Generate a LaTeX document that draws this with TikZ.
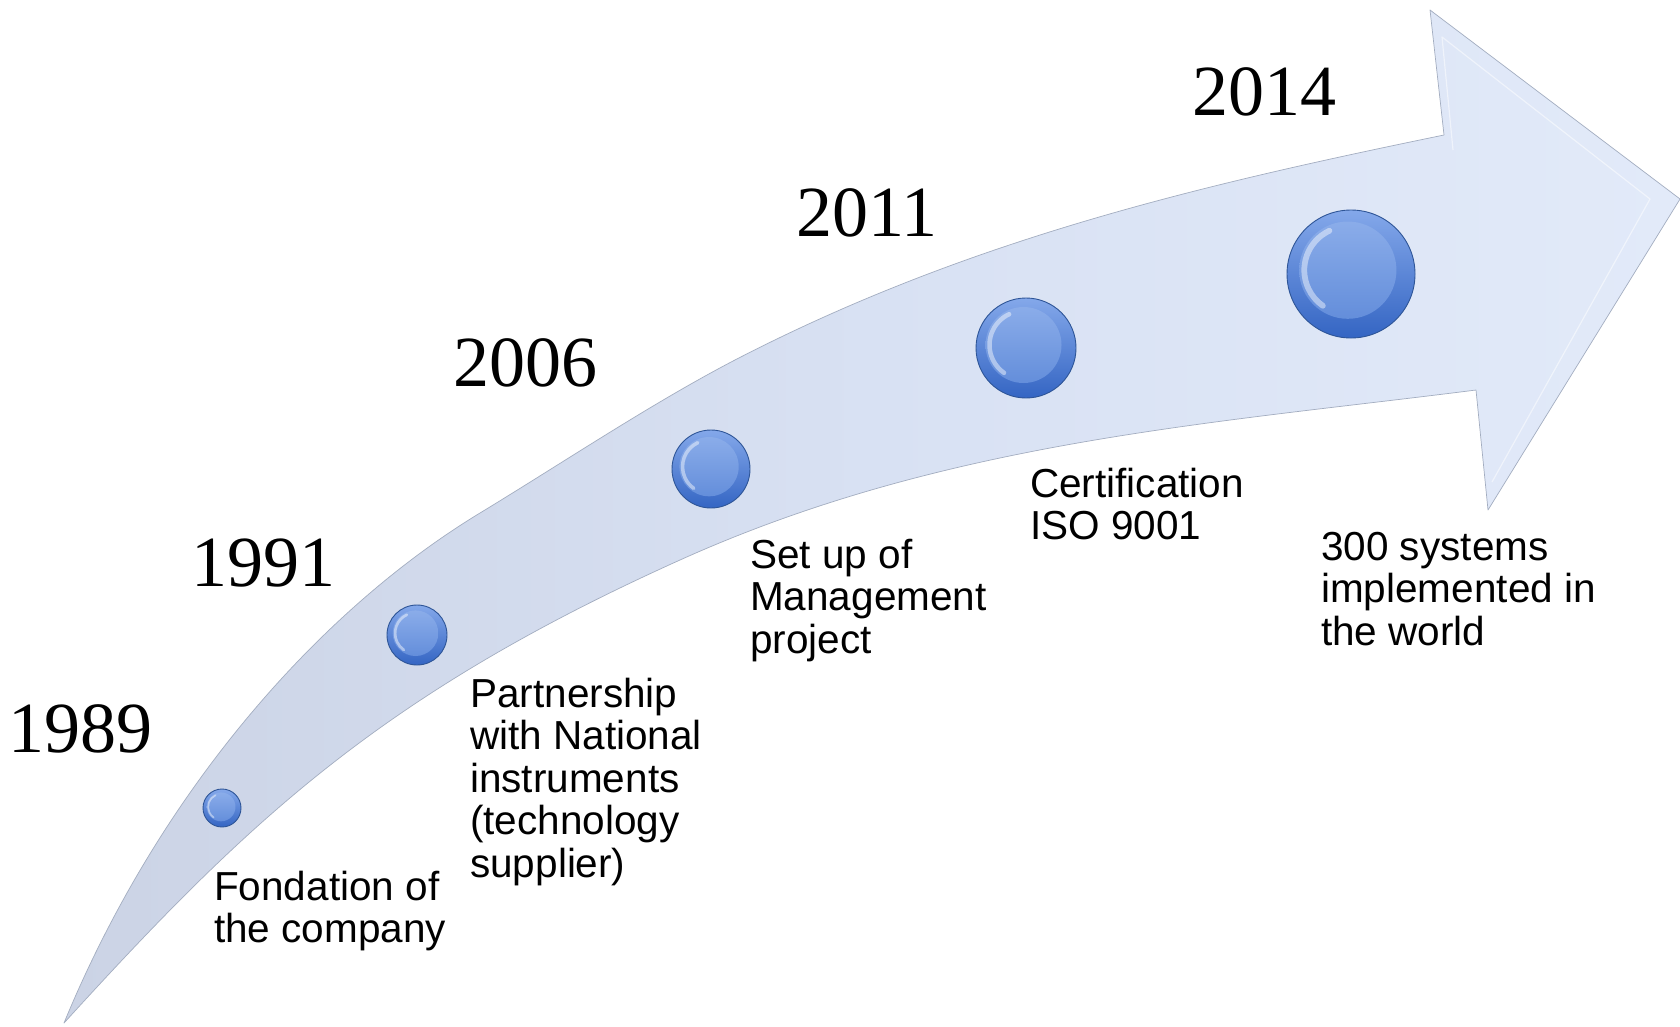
\documentclass[tikz,border=0pt]{standalone}
\usepackage{fontspec}
\setmainfont{Liberation Serif}
\newfontfamily\labfont{Liberation Sans}
\usetikzlibrary{calc}
\definecolor{arrowtail}{HTML}{CBD3E5}
\definecolor{arrowmid}{HTML}{D8E1F3}
\definecolor{arrowhead}{HTML}{E2EAF9}
\definecolor{arrowline}{HTML}{A3ADC0}
\definecolor{beadtop}{HTML}{84A8EA}
\definecolor{beadbot}{HTML}{3465C3}
\definecolor{beadline}{HTML}{2E5597}
\definecolor{innertop}{HTML}{8FB0EB}
\definecolor{innerbot}{HTML}{5C88D8}
\begin{document}
\begin{tikzpicture}[x=1pt,y=-1pt,
  bead/.style={circle, inner sep=0pt, minimum size={2*#1 pt}, draw=beadline, line width=0.9pt,
    top color=beadtop, bottom color=beadbot,
    path picture={
      \shade[top color=innertop, bottom color=innerbot]
        ([xshift={-0.05*#1 pt}, yshift={0.06*#1 pt}]path picture bounding box.center) circle ({0.76*#1 pt});
      \draw[white, opacity=0.45, line width={0.09*#1 pt}, line cap=round]
        ([xshift={-0.05*#1 pt}, yshift={0.06*#1 pt}]path picture bounding box.center)
        ++(115:{0.68*#1 pt}) arc[start angle=115, end angle=235, radius={0.68*#1 pt}];
    }},
  year/.style={anchor=base, inner sep=0pt, font=\fontsize{72}{80}\selectfont},
  event/.style={anchor=base west, inner sep=0pt, align=left, font=\labfont\fontsize{40.5}{42.5}\selectfont}
]
\useasboundingbox (0,0) rectangle (1680,1026);
\fill[white] (0,0) rectangle (1680,1026);

% the curved arrow
\shadedraw[left color=arrowtail, right color=arrowhead, middle color=arrowmid, draw=arrowline, line width=0.7pt, line join=round]
  (64,1023) .. controls (160,790) and (320,610) .. (480,513)
  .. controls (564,462) and (649,405) .. (733,361)
  .. controls (970,238) and (1206,184) .. (1444,135)
  -- (1430,10) -- (1680,199) -- (1488,510) -- (1476,390)
  .. controls (1209,424) and (944,441) .. (680,560)
  .. controls (380,695) and (247,822) .. (64,1023)
  -- cycle;
% faint bevel on the head
\draw[white, opacity=0.5, line width=1.2pt, line join=round]
  (1453,150) -- (1442,37) -- (1650,199) -- (1492,482);

% beads
\node[bead=19] (s1989) at (222,808) {};
\node[bead=30] (s1991) at (417,635) {};
\node[bead=39] (s2006) at (711,469) {};
\node[bead=50] (s2011) at (1026,348) {};
\node[bead=64] (s2014) at (1351,274) {};

% years
\node[year] (y1989) at (81,752) {1989};
\node[year] (y1991) at (263,586) {1991};
\node[year] (y2006) at (525,386) {2006};
\node[year] (y2011) at (867,236) {2011};
\node[year] (y2014) at (1264,115) {2014};

% events (anchor = baseline of the last line)
\node[event] (e1989) at (214,942.5) {Fondation of\\the company};
\node[event] (e1991) at (470,877) {Partnership\\with National\\instruments\\(technology\\supplier)};
\node[event] (e2006) at (750,653) {Set up of\\Management\\project};
\node[event] (e2011) at (1030,539.5) {Certification\\ISO 9001};
\node[event] (e2014) at (1321,645) {300 systems\\implemented in\\the world};
\end{tikzpicture}
\end{document}
